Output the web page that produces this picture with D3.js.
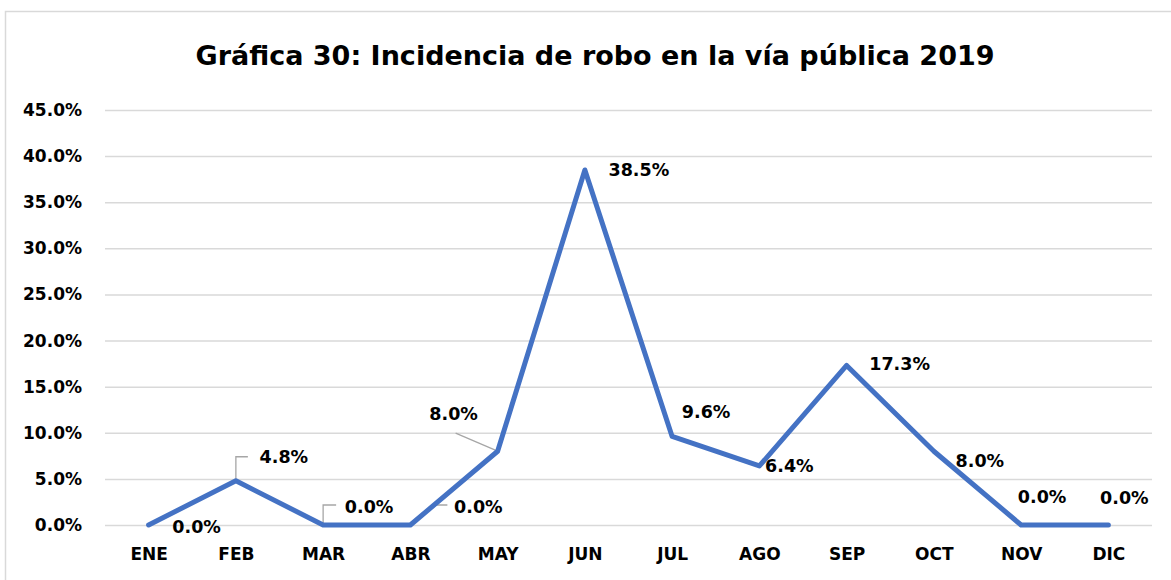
<!DOCTYPE html>
<html>
<head>
<meta charset="utf-8">
<script src="https://cdn.jsdelivr.net/npm/d3@7"></script>
<style>
  body { margin: 0; background: #fff; }
  svg { display: block; font-family: "DejaVu Sans", sans-serif; font-weight: 700; }
</style>
</head>
<body>
<div id="chart"></div>
<script>
const title = 'Gráfica 30: Incidencia de robo en la vía pública 2019';
const months = ['ENE', 'FEB', 'MAR', 'ABR', 'MAY', 'JUN', 'JUL', 'AGO', 'SEP', 'OCT', 'NOV', 'DIC'];
const incidence = [0.0, 4.8, 0.0, 0.0, 8.0, 38.5, 9.6, 6.4, 17.3, 8.0, 0.0, 0.0];
const yTicks = [0, 5, 10, 15, 20, 25, 30, 35, 40, 45];

// label placement relative to the point (dx to text centre, dy to text middle)
const labelOffsets = [
  [48, 2], [48, -24], [46, -18], [68, -18], [-44, -37], [54, 0],
  [34, -25], [30, 0], [53, -2], [46, 10], [21, -28], [16, -27]
];
// leader lines for labels pulled away from their point
const leaders = {
  1: [[0, 0], [0, -24], [12, -24]],
  2: [[0, 0], [0, -20], [13, -20]],
  3: [[0, 0], [26, -20], [37, -20]],
  4: [[0, 0], [-42, -18]]
};

const W = 1171, H = 580;
const margin = { top: 110, right: 19, bottom: 55, left: 105 };
const width = W - margin.left - margin.right;
const height = 525 - margin.top;
const font = '"DejaVu Sans", sans-serif';

const svg = d3.select('#chart').append('svg')
  .attr('width', W)
  .attr('height', H);

svg.append('rect')
  .attr('x', 5.5).attr('y', 11.5)
  .attr('width', W + 10).attr('height', H + 10)
  .attr('fill', 'none')
  .attr('stroke', '#d9d9d9')
  .attr('stroke-width', 1.5);

svg.append('text')
  .attr('x', 595).attr('y', 65)
  .attr('text-anchor', 'middle')
  .attr('font-size', 27)
  .attr('fill', '#000')
  .text(title);

const g = svg.append('g')
  .attr('transform', `translate(${margin.left},${margin.top})`);

const x = d3.scalePoint()
  .domain(months)
  .range([0, width])
  .padding(0.5);

const y = d3.scaleLinear()
  .domain([0, 45])
  .range([height, 0]);

// gridlines + y labels
const yAxis = g.append('g')
  .call(d3.axisLeft(y).tickValues(yTicks).tickSize(-width).tickFormat(d => d.toFixed(1) + '%').tickPadding(23));
yAxis.select('.domain').remove();
yAxis.selectAll('.tick line').attr('stroke', '#d9d9d9').attr('stroke-width', 1.5);
yAxis.selectAll('.tick text').attr('font-size', 17).attr('fill', '#000').attr('font-family', font);

const xAxis = g.append('g')
  .attr('transform', `translate(0,${height})`)
  .call(d3.axisBottom(x).tickSize(0).tickPadding(23));
xAxis.select('.domain').remove();
xAxis.selectAll('.tick text').attr('font-size', 17).attr('fill', '#000').attr('font-family', font);

const data = months.map((m, i) => ({ m, v: incidence[i], i }));

const line = d3.line()
  .x(d => x(d.m))
  .y(d => y(d.v));

// leader lines
Object.entries(leaders).forEach(([i, pts]) => {
  const d = data[+i];
  g.append('path')
    .attr('d', d3.line()(pts.map(p => [x(d.m) + p[0], y(d.v) + p[1]])))
    .attr('fill', 'none')
    .attr('stroke', '#a6a6a6')
    .attr('stroke-width', 1.3);
});

g.append('path')
  .datum(data)
  .attr('d', line)
  .attr('fill', 'none')
  .attr('stroke', '#4472c4')
  .attr('stroke-width', 5)
  .attr('stroke-linejoin', 'round')
  .attr('stroke-linecap', 'round');

g.selectAll('.lbl')
  .data(data)
  .enter().append('text')
  .attr('class', 'lbl')
  .attr('x', d => x(d.m) + labelOffsets[d.i][0])
  .attr('y', d => y(d.v) + labelOffsets[d.i][1])
  .attr('dy', '0.35em')
  .attr('text-anchor', 'middle')
  .attr('font-size', 17.5)
  .attr('fill', '#000')
  .text(d => d.v.toFixed(1) + '%');
</script>
</body>
</html>
